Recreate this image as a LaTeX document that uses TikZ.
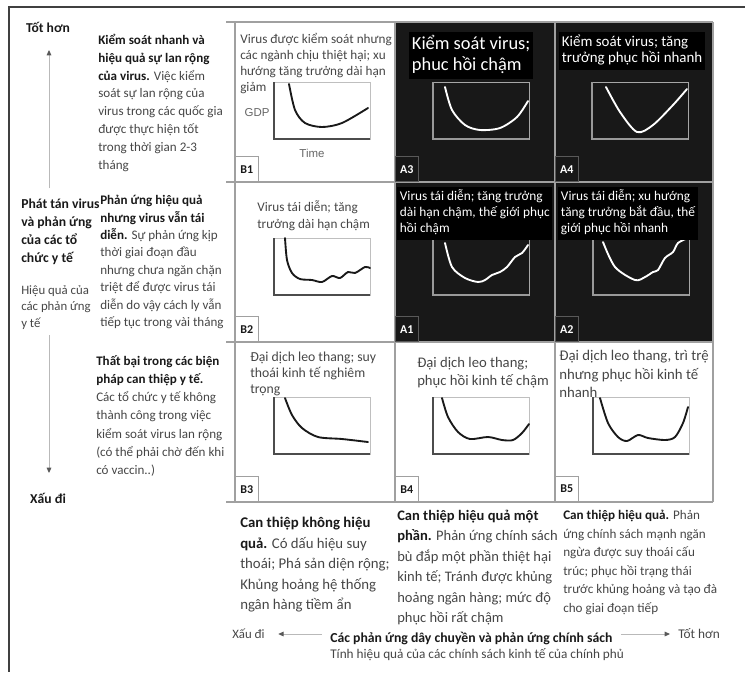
\documentclass[tikz,border=0pt]{standalone}
\usepackage{fontspec}
\setmainfont{Carlito}
\newfontfamily\plotfont{Liberation Sans}
\usetikzlibrary{arrows.meta,calc}

\definecolor{INK}{RGB}{70,70,70}
\definecolor{HEAD}{RGB}{25,25,25}
\definecolor{PANEL-DARK}{RGB}{24,24,24}
\definecolor{GRID}{RGB}{160,160,160}
\newcommand{\txtsize}[2]{\fontsize{#1}{#2}\selectfont}
\newcommand{\headtxt}[1]{\textbf{\color{HEAD}#1}}

\begin{document}
\begin{tikzpicture}[x=0.75pt,y=-0.75pt,
  para/.style={anchor=north west,align=left,inner sep=0pt,text=INK,execute at begin node=\strut},
  axislbl/.style={inner sep=0pt,text=HEAD,font=\txtsize{9}{11}},
  gridline/.style={draw=GRID,line width=0.8pt},
  tagbox/.style={anchor=south west,minimum width=17pt,minimum height=18.5pt,inner sep=0pt,font=\bfseries\txtsize{9}{11},line width=0.8pt},
  tag-light/.style={draw=GRID,fill=white,text=HEAD},
  tag-dark/.style={draw=gray!70!black,fill=PANEL-DARK,text=white},
  frame-light/.style={draw=gray!50,line width=0.6pt},
  frame-dark/.style={draw=gray!70,line width=0.6pt},
  axis-light/.style={draw=black!70,line width=1.1pt},
  axis-dark/.style={draw=gray!80,line width=1.1pt},
  curve-light/.style={draw=black!90,line width=1.4pt,line cap=round},
  curve-dark/.style={draw=white,line width=1.4pt,line cap=round},
  hilite/.style={fill=black,inner sep=2pt,text=white},
  plotlbl/.style={inner sep=0pt,text=black!60,font=\plotfont\txtsize{8.6}{10}},
  axisarrow/.style={draw=gray!55,line width=0.7pt,-{Triangle[length=4pt,width=3.5pt,color=black!65]}},
]
\useasboundingbox (0,0) rectangle (745,672);

% outer frame (top and left only)
\draw[line width=1.2pt,black!75] (745,7) -- (9,7) -- (9,672);

% dark scenario block A3 A4 / A1 A2
\fill[PANEL-DARK] (395,22) rectangle (713,342);

% grid
\foreach \y in {22,182,342,502}
  \draw[gridline] (226,\y) -- (713,\y);
\foreach \x in {235,395,555,713}
  \draw[gridline] (\x,22) -- (\x,502);

% scenario tags, bottom left of each panel
\foreach \name/\cx/\cy/\shade in {B1/235/182/light, A3/395/182/dark, A4/555/182/dark,
    B2/235/342/light, A1/395/342/dark, A2/555/342/dark,
    B3/235/502/light, B4/395/502/light, B5/555/502/light}{
  \node[tagbox,tag-\shade] (tag-\name) at (\cx,\cy) {\name};
}

% small GDP charts
\foreach \name/\px/\py/\shade in {B1/274/82/light, A3/433/82/dark, A4/592/82/dark,
    B2/274/238/light, A1/433/238/dark, A2/593/238/dark,
    B3/274/397/light, B4/433/397/light, B5/593/397/light}{
  \coordinate (plot-\name) at (\px,\py);
  \draw[frame-\shade] (\px,\py) rectangle ++(96,57);
  \draw[axis-\shade] (\px,\py) -- ++(0,57) -- ++(96,0);
}

% GDP paths
\draw[curve-light,shift={(plot-B1)}] plot[smooth] coordinates {(15,2) (21,28) (31,41) (48,45) (68,41) (94,26)};
\draw[curve-dark,shift={(plot-A3)}] plot[smooth] coordinates {(12,5) (19,28) (32,43) (47,48) (67,46) (84,35) (95,19)};
\draw[curve-dark,shift={(plot-A4)}] plot[smooth] coordinates {(14,5) (28,30) (45,50) (61,43) (81,23) (95,7)};
\draw[curve-light,shift={(plot-B2)}] plot[smooth] coordinates {(11,0) (13,22) (18,35) (26,41) (38,42) (48,44) (58,38) (66,40) (74,34) (81,35) (91,29) (96,30)};
\draw[curve-dark,shift={(plot-A1)}] plot[smooth] coordinates {(12,5) (19,29) (32,40) (45,44) (52,42) (59,37) (67,34) (74,29) (82,19) (89,15) (95,7)};
\draw[curve-dark,shift={(plot-A2)}] plot[smooth] coordinates {(10,4) (22,29) (42,42) (52,39) (60,34) (65,32) (72,20) (80,14) (85,5) (95,0)};
\draw[curve-light,shift={(plot-B3)}] plot[smooth] coordinates {(11,1) (18,18) (28,31) (44,40) (68,42) (94,45)};
\draw[curve-light,shift={(plot-B4)}] plot[smooth] coordinates {(9,1) (15,20) (25,35) (37,42) (55,40) (69,43) (80,43) (89,36) (96,27)};
\draw[curve-light,shift={(plot-B5)}] plot[smooth] coordinates {(7,1) (15,26) (25,40) (34,44) (45,38) (55,41) (72,43) (82,40) (90,26) (95,10)};

\node[plotlbl] (gdp) at (257,113) {GDP};
\node[plotlbl] (time) at (312,153) {Time};

% panel captions
\node[para,font=\txtsize{9.9}{12}] (txt-B1) at (240,33) {Virus được kiểm soát nhưng\\các ngành chịu thiệt hại; xu\\hướng tăng trưởng dài hạn\\giảm};
\node[para,hilite,font=\txtsize{13.8}{15.8}] (txt-A3) at (409,32) {Kiểm soát virus;\\phuc hồi chậm};
\node[para,hilite,font=\txtsize{11.2}{12}] (txt-A4) at (559,32) {Kiểm soát virus; tăng\\trưởng phục hồi nhanh};
\node[para,font=\txtsize{9.9}{12.8}] (txt-B2) at (257,200) {Virus tái diễn; tăng\\trưởng dài hạn chậm};
\node[para,hilite,font=\txtsize{10}{12}] (txt-A1) at (397,187) {Virus tái diễn; tăng trưởng\\dài hạn chậm, thế giới phục\\hồi chậm};
\node[para,hilite,font=\txtsize{10}{12}] (txt-A2) at (558,187) {Virus tái diễn; xu hướng\\tăng trưởng bắt đầu, thế\\giới phục hồi nhanh};
\node[para,font=\txtsize{10.3}{12}] (txt-B3) at (250,352) {Đại dịch leo thang; suy\\thoái kinh tế nghiêm\\trọng};
\node[para,font=\txtsize{11}{13.5}] (txt-B4) at (417,357) {Đại dịch leo thang;\\phục hồi kinh tế chậm};
\node[para,font=\txtsize{11.1}{13.9}] (txt-B5) at (559,350) {Đại dịch leo thang, trì trệ\\nhưng phục hồi kinh tế\\nhanh};

% left side: health response axis
\node[axislbl,font=\bfseries\txtsize{10.2}{11}] (better) at (48,27) {Tốt hơn};
\node[axislbl,font=\bfseries\txtsize{10.2}{11}] (worse) at (48,498) {Xấu đi};
\node[para,font=\bfseries\txtsize{10.25}{13.5},text=HEAD] (spread) at (21,199) {Phát tán virus\\và phản ứng\\của các tổ\\chức y tế};
\node[para,font=\txtsize{9.6}{12.4}] (effect) at (21,285) {Hiệu quả của\\các phản ứng\\y tế};
\coordinate (v-top) at (49,50);
\coordinate (v-bot) at (49,473);
\draw[axisarrow,shorten <=8pt] (spread.north -| v-top) -- (v-top);
\draw[axisarrow,shorten <=2pt] (effect.south -| v-bot) -- (v-bot);

\node[para,font=\txtsize{9.8}{13.35}] (row-A) at (98,34) {\headtxt{Kiểm soát nhanh và}\\\headtxt{hiệu quả sự lan rộng}\\\headtxt{của virus.} Việc kiểm\\soát sự lan rộng của\\virus trong các quốc gia\\được thực hiện tốt\\trong thời gian 2-3\\tháng};
\node[para,font=\txtsize{9.8}{13.1}] (row-B) at (100,195) {\headtxt{Phản ứng hiệu quả}\\\headtxt{nhưng virus vẫn tái}\\\headtxt{diễn.} Sự phản ứng kịp\\thời giai đoạn đầu\\nhưng chưa ngăn chặn\\triệt để được virus tái\\diễn do vậy cách ly vẫn\\tiếp tục trong vài tháng};
\node[para,font=\txtsize{9.8}{13.7}] (row-C) at (96,355) {\headtxt{Thất bại trong các biện}\\\headtxt{pháp can thiệp y tế.}\\Các tổ chức y tế không\\thành công trong việc\\kiểm soát virus lan rộng\\(có thể phải chờ đến khi\\có vaccin..)};

% bottom: policy response axis
\node[para,font=\txtsize{11.1}{15.4}] (col-1) at (240,517) {\headtxt{Can thiệp không hiệu}\\\headtxt{quả.} Có dấu hiệu suy\\thoái; Phá sản diện rộng;\\Khủng hoảng hệ thống\\ngân hàng tiềm ẩn};
\node[para,font=\txtsize{10.9}{15.3}] (col-2) at (397,510) {\headtxt{Can thiệp hiệu quả một}\\\headtxt{phần.} Phản ứng chính sách\\bù đắp một phần thiệt hại\\kinh tế; Tránh được khủng\\hoảng ngân hàng; mức độ\\phục hồi rất chậm};
\node[para,font=\txtsize{9.85}{13.9}] (col-3) at (563,510) {\headtxt{Can thiệp hiệu quả.} Phản\\ứng chính sách mạnh ngăn\\ngừa được suy thoái cấu\\trúc; phục hồi trạng thái\\trước khủng hoảng và tạo đà\\cho giai đoạn tiếp};

\node[axislbl,text=INK,anchor=west,font=\txtsize{9.6}{11}] (x-worse) at (232,634) {Xấu đi};
\node[axislbl,text=INK,anchor=west,font=\txtsize{10}{11}] (x-better) at (678,634) {Tốt hơn};
\node[axislbl,anchor=west,font=\bfseries\txtsize{10.3}{11}] (x-title) at (330,638) {Các phản ứng dây chuyền và phản ứng chính sách};
\node[axislbl,text=INK,anchor=west,font=\txtsize{9.95}{11}] (x-sub) at (330,655) {Tính hiệu quả của các chính sách kinh tế của chính phủ};
\draw[axisarrow,shorten <=6pt,shorten >=10pt] (x-title.west |- x-worse) -- (x-worse.east);
\draw[axisarrow,shorten <=6pt,shorten >=6pt] (x-title.east |- x-better) -- (x-better.west);
\end{tikzpicture}
\end{document}
